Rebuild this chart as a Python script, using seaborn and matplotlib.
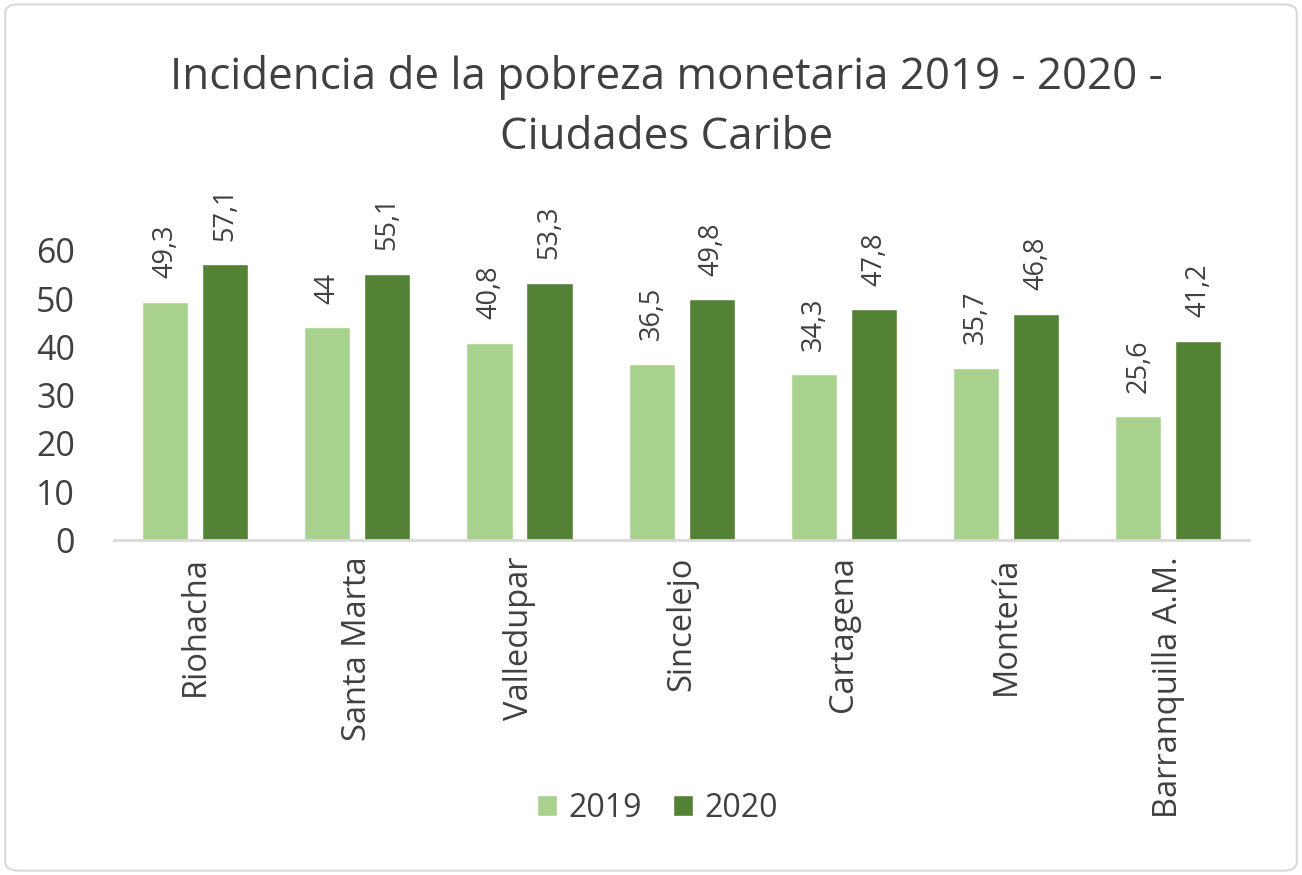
import matplotlib
matplotlib.use("Agg")
import matplotlib.pyplot as plt
from matplotlib.patches import FancyBboxPatch
import pandas as pd
import seaborn as sns

# Datos
ciudades = ["Riohacha", "Santa Marta", "Valledupar", "Sincelejo",
            "Cartagena", "Montería", "Barranquilla A.M."]
anios = ["2019", "2020"]
valores_2019 = [49.3, 44.0, 40.8, 36.5, 34.3, 35.7, 25.6]
valores_2020 = [57.1, 55.1, 53.3, 49.8, 47.8, 46.8, 41.2]
etiquetas_2019 = ["49,3", "44", "40,8", "36,5", "34,3", "35,7", "25,6"]
etiquetas_2020 = ["57,1", "55,1", "53,3", "49,8", "47,8", "46,8", "41,2"]

df = pd.DataFrame({
    "ciudad": ciudades * 2,
    "anio": [anios[0]] * len(ciudades) + [anios[1]] * len(ciudades),
    "valor": valores_2019 + valores_2020,
})

texto = "#404040"
colores = {"2019": "#A9D18E", "2020": "#548235"}

sns.set_theme(style="white")
plt.rcParams["font.family"] = ["Open Sans", "DejaVu Sans"]

fig = plt.figure(figsize=(13.02, 8.75), dpi=100)
ax = fig.add_axes([0.0876, 0.383, 0.872, 0.331])

sns.barplot(data=df, x="ciudad", y="valor", hue="anio", palette=colores,
            saturation=1, width=0.74, gap=0.23, ax=ax, legend=True)

# Etiquetas de datos
for cont, etiq in zip(ax.containers, [etiquetas_2019, etiquetas_2020]):
    ax.bar_label(cont, labels=etiq, rotation=90, padding=17,
                 fontsize=19.5, color=texto, clip_on=False)

ax.set_ylim(0, 60)
ax.set_yticks(range(0, 61, 10))
ax.set_xlim(-0.5, len(ciudades) - 0.5)
ax.set_xlabel("")
ax.set_ylabel("")
ax.tick_params(axis="y", labelsize=24.5, colors=texto, length=0, pad=28)
ax.tick_params(axis="x", labelsize=23.5, colors=texto, length=0, pad=12)
plt.setp(ax.get_xticklabels(), rotation=90)
for lado in ["top", "right", "left"]:
    ax.spines[lado].set_visible(False)
ax.spines["bottom"].set_color("#D9D9D9")
ax.spines["bottom"].set_linewidth(2)

# Leyenda
h, l = ax.get_legend_handles_labels()
ax.get_legend().remove()
fig.legend(h, l, loc="center", bbox_to_anchor=(0.505, 0.076), ncol=2,
           frameon=False, fontsize=23, handlelength=0.62, handleheight=0.62,
           handletextpad=0.35, columnspacing=1.0, labelcolor=texto)

fig.text(0.512, 0.877, "Incidencia de la pobreza monetaria 2019 - 2020 -\nCiudades Caribe",
         ha="center", va="center", fontsize=31.6, color=texto, linespacing=1.45)

# Borde del gráfico
borde = FancyBboxPatch((0.004, 0.005), 0.992, 0.99, boxstyle="round,pad=0,rounding_size=0.01",
                       transform=fig.transFigure, fill=False, edgecolor="#D9D9D9", linewidth=1.5)
fig.patches.append(borde)

fig.savefig("out.png", dpi=100, facecolor="white")
